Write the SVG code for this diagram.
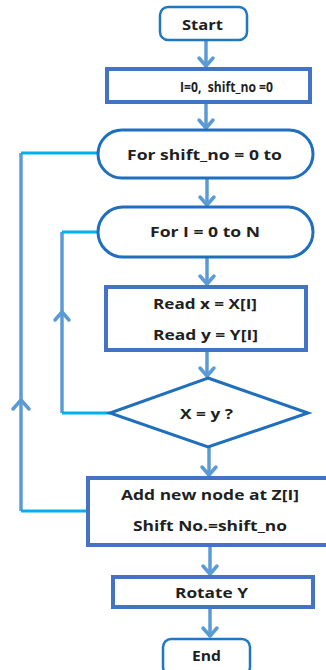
<svg xmlns="http://www.w3.org/2000/svg" width="326" height="670" viewBox="0 0 326 670">
  <style>
    .lbl { font-family: "Open Sans", "Liberation Sans", sans-serif; font-weight: 700; font-size: 14.5px; fill: #1f1f1f; text-anchor: middle; dominant-baseline: central; }
    .term { fill: #ffffff; stroke: #1f78c1; stroke-width: 2.5; }
    .loop { fill: #ffffff; stroke: #1f6fbd; stroke-width: 3; }
    .proc { fill: #ffffff; stroke: #4472c4; stroke-width: 4; }
    .flow { fill: none; stroke: #5b9bd5; stroke-width: 3.5; }
    .back { fill: none; stroke: #00b0f0; stroke-width: 3; }
    .head { fill: none; stroke: #5b9bd5; stroke-width: 3.5; stroke-linecap: round; stroke-linejoin: round; }
  </style>

  <!-- connectors -->
  <g id="connectors">
    <!-- main downward flow -->
    <path class="flow" d="M206 40 V67"/>
    <path class="head" d="M199 58 L206 66 L213 58"/>
    <path class="flow" d="M206 102 V129"/>
    <path class="head" d="M199 120 L206 128 L213 120"/>
    <path class="flow" d="M207 178 V206"/>
    <path class="head" d="M200 197 L207 205 L214 197"/>
    <path class="flow" d="M207 257 V285"/>
    <path class="head" d="M200 276 L207 284 L214 276"/>
    <path class="flow" d="M207 350 V377"/>
    <path class="head" d="M200 368 L207 376 L214 368"/>
    <path class="flow" d="M209 447 V476"/>
    <path class="head" d="M202 467 L209 475 L216 467"/>
    <path class="flow" d="M210 545 V575"/>
    <path class="head" d="M203 566 L210 574 L217 566"/>
    <path class="flow" d="M210 607 V637"/>
    <path class="head" d="M203 628 L210 636 L217 628"/>

    <!-- inner loop: X = y ? back to For I -->
    <path class="flow" d="M62 413 V232"/>
    <path class="back" d="M110 413 H62"/>
    <path class="back" d="M62 232 H98"/>
    <path class="head" d="M55 320 L62 312 L69 320"/>

    <!-- outer loop: Add new node back to For shift_no -->
    <path class="flow" d="M21 511 V153"/>
    <path class="back" d="M87 511 H21"/>
    <path class="back" d="M21 153 H98"/>
    <path class="head" d="M13 409 L21 400 L29 409"/>
  </g>

  <g id="start">
    <rect class="term" x="160" y="7" width="87" height="33" rx="8"/>
    <text class="lbl" x="202.5" y="24" textLength="41" lengthAdjust="spacingAndGlyphs">Start</text>
  </g>

  <g id="init">
    <rect class="proc" x="107" y="69" width="203" height="33"/>
    <text class="lbl" x="226.5" y="86" textLength="93" lengthAdjust="spacingAndGlyphs" xml:space="preserve">I=0,  shift_no =0</text>
  </g>

  <g id="for-shift">
    <rect class="loop" x="98" y="130" width="215" height="48" rx="24"/>
    <text class="lbl" x="204.5" y="154" textLength="155" lengthAdjust="spacingAndGlyphs">For shift_no = 0 to</text>
  </g>

  <g id="for-i">
    <rect class="loop" x="98" y="207" width="215" height="50" rx="25"/>
    <text class="lbl" x="205" y="231" textLength="110" lengthAdjust="spacingAndGlyphs">For I = 0 to N</text>
  </g>

  <g id="read">
    <rect class="proc" x="106" y="287" width="200" height="63"/>
    <text class="lbl" x="205" y="303" textLength="104" lengthAdjust="spacingAndGlyphs">Read x = X[I]</text>
    <text class="lbl" x="205.5" y="334" textLength="105" lengthAdjust="spacingAndGlyphs">Read y = Y[I]</text>
  </g>

  <g id="compare">
    <polygon class="loop" points="208,378 308,413 208,447 110,413"/>
    <text class="lbl" x="206.5" y="413" textLength="53" lengthAdjust="spacingAndGlyphs">X = y ?</text>
  </g>

  <g id="add-node">
    <rect class="proc" x="88" y="478" width="250" height="67"/>
    <text class="lbl" x="210" y="494" textLength="178" lengthAdjust="spacingAndGlyphs">Add new node at Z[I]</text>
    <text class="lbl" x="210" y="525" textLength="154" lengthAdjust="spacingAndGlyphs">Shift No.=shift_no</text>
  </g>

  <g id="rotate">
    <rect class="proc" x="113" y="577" width="200" height="30"/>
    <text class="lbl" x="211.5" y="592" textLength="73" lengthAdjust="spacingAndGlyphs">Rotate Y</text>
  </g>

  <g id="end">
    <rect class="term" x="163" y="639" width="87" height="36" rx="8"/>
    <text class="lbl" x="206.5" y="655" textLength="29" lengthAdjust="spacingAndGlyphs">End</text>
  </g>
</svg>
